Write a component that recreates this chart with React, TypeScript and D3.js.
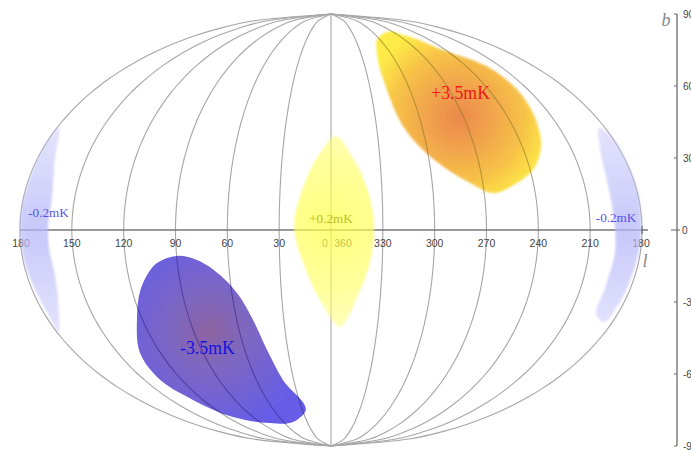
import React from "react";
import * as d3 from "d3";

const W = 691;
const H = 450;

// Sky positions: projected degrees from the map centre (on the equator scale) and galactic latitude b
const hotLon = [26.6, 32.4, 41.7, 64.8, 93.8, 109.4, 119.2, 121.6, 116.9, 107.7, 93.8, 80.5, 61.4, 44, 31.8, 26.6];
const hotLat = [79.2, 82.5, 81.3, 75, 66.7, 57.1, 44.6, 34.6, 25, 19.6, 15.4, 19.6, 28.3, 40.8, 59.6, 73.8];
const coldLon = [-89.1, -77.6, -64.2, -54.4, -45.1, -37, -27.8, -15, -22, -35.3, -56.7, -79.9, -100.7, -110.5, -112.3, -108.8, -100.7];
const coldLat = [-10.8, -12.5, -18.8, -26.3, -37.5, -50, -62.5, -75.8, -80, -80.4, -77.9, -70.8, -61.3, -51.3, -37.5, -22.1, -13.8];
const warmLon = [2.3, 12.7, 20.8, 24.9, 22.6, 15.6, 4.6, -4.6, -15, -21.4, -16.2, -6.4];
const warmLat = [39.2, 30, 17.5, 2.1, -13.3, -27.1, -40.4, -31.3, -15.8, 2.1, 17.5, 32.1];
const coolLeftLon = [-157.4, -166.7, -174.2, -178.8, -180, -178.3, -172.5, -164.4, -157.4, -157.4, -159.8, -163.2, -163.8, -161.5, -159.8];
const coolLeftLat = [42.9, 34.2, 21.7, 10.4, 0, -10.4, -22.9, -34.2, -42.5, -35.4, -18.8, -7.5, 0.8, 13.3, 30];
const coolRightLon = [155.1, 163.2, 171.3, 177.1, 179.4, 178.8, 174.2, 166.1, 156.9, 154.5, 158.6, 164.4, 164.4, 160.3, 155.7];
const coolRightLat = [42.5, 38.3, 28.3, 17.5, 6.3, -6.3, -18.8, -31.3, -38.3, -36.7, -24.2, -9.2, 0.8, 18.8, 34.2];

const leftLonTicks = [180, 150, 120, 90, 60, 30, 0];
const rightLonTicks = [360, 330, 300, 270, 240, 210, 180];
const latTicks = [90, 60, 30, 0, -30, -60, -90];
const dipoleLabels = ["+3.5mK", "-3.5mK", "+0.2mK", "-0.2mK", "-0.2mK"];

const x = d3.scaleLinear().domain([-180, 180]).range([20, 642]);
const y = d3.scaleLinear().domain([90, -90]).range([14, 446]);
const FRAME = "Liberation Sans, Arial, sans-serif";
const SERIF = "Liberation Serif, Times New Roman, serif";

const zip = (a: number[], b: number[]) => a.map((v, i) => [v, b[i]] as [number, number]);
const blob = d3
  .line<[number, number]>()
  .x((d) => x(d[0]))
  .y((d) => y(d[1]))
  .curve(d3.curveCatmullRomClosed.alpha(1));

const latSamples = d3.range(-90, 90.5, 3);
const meridianPath = (p: number) =>
  d3
    .line<number>()
    .x((b) => x(p * Math.sqrt(Math.max(0, 1 - (b / 90) ** 2))))
    .y((b) => y(b))
    .curve(d3.curveCatmullRom)(latSamples) as string;

const gridPositions = [
  ...leftLonTicks.map((l) => -l),
  ...rightLonTicks.slice(1).map((l) => 360 - l),
];

const hotPath = blob(zip(hotLon, hotLat)) as string;
const coldPath = blob(zip(coldLon, coldLat)) as string;

export default function App() {
  return (
    <div style={{ position: "absolute", left: 0, top: 0, width: W, height: H, background: "#fff" }}>
      <svg width={W} height={H} viewBox={`0 0 ${W} ${H}`} style={{ display: "block" }}>
        <defs>
          <filter id="soft" x="-10%" y="-10%" width="120%" height="120%">
            <feGaussianBlur stdDeviation="0.8" />
          </filter>
          <filter id="crisp" x="-10%" y="-10%" width="120%" height="120%">
            <feGaussianBlur stdDeviation="0.35" />
          </filter>
          <filter id="line" x="-5%" y="-5%" width="110%" height="110%">
            <feGaussianBlur stdDeviation="0.35" />
          </filter>
          <clipPath id="hotClip"><path d={hotPath} /></clipPath>
          <clipPath id="coldClip"><path d={coldPath} /></clipPath>
          <radialGradient id="hot" gradientUnits="userSpaceOnUse" cx={x(74)} cy={y(47)} r={95}>
            <stop offset="0" stopColor="#e97f3c" stopOpacity="0.92" />
            <stop offset="0.35" stopColor="#f09a38" stopOpacity="0.9" />
            <stop offset="0.7" stopColor="#f6bc2e" stopOpacity="0.88" />
            <stop offset="1" stopColor="#fde82e" stopOpacity="0.88" />
          </radialGradient>
          <radialGradient id="cold" gradientUnits="userSpaceOnUse" cx={x(-70)} cy={y(-42)} r={100}>
            <stop offset="0" stopColor="#86589a" stopOpacity="0.93" />
            <stop offset="0.4" stopColor="#6e56bc" stopOpacity="0.9" />
            <stop offset="1" stopColor="#5a4fe4" stopOpacity="0.92" />
          </radialGradient>
          <radialGradient id="warm" gradientUnits="userSpaceOnUse" cx={x(0)} cy={y(2)} r={100}>
            <stop offset="0" stopColor="#ffff48" stopOpacity="0.72" />
            <stop offset="0.65" stopColor="#ffff60" stopOpacity="0.62" />
            <stop offset="1" stopColor="#ffff80" stopOpacity="0.55" />
          </radialGradient>
          <radialGradient id="coolL" gradientUnits="userSpaceOnUse" cx={x(-168)} cy={y(0)} r={105}>
            <stop offset="0" stopColor="#b4b4f8" stopOpacity="0.75" />
            <stop offset="1" stopColor="#c8c8fc" stopOpacity="0.5" />
          </radialGradient>
          <radialGradient id="coolR" gradientUnits="userSpaceOnUse" cx={x(168)} cy={y(0)} r={105}>
            <stop offset="0" stopColor="#b4b4f8" stopOpacity="0.75" />
            <stop offset="1" stopColor="#c8c8fc" stopOpacity="0.5" />
          </radialGradient>
        </defs>

        <g fill="none" stroke="#a6a6a6" strokeWidth={1.1} filter="url(#line)">
          {gridPositions.map((p, i) => (
            <path key={i} d={meridianPath(p)} />
          ))}
        </g>

        <line x1={x(-180)} x2={648} y1={y(0)} y2={y(0)} stroke="#777" strokeWidth={1.4} />
        <line x1={x(180)} x2={x(180)} y1={y(0) - 4} y2={y(0) + 4} stroke="#444" strokeWidth={1} />

        <g fontFamily={FRAME} fontSize={10.5} fill="#444" textAnchor="middle">
          {leftLonTicks.map((l) => (
            <text key={`l${l}`} x={x(-l) + (l === 0 ? -6 : 0) + (l === 180 ? 1 : 0)} y={y(0) + 17}>{l}</text>
          ))}
          {rightLonTicks.map((l) => (
            <text key={`r${l}`} x={x(360 - l) + (l === 360 ? 12 : 0) - (l === 180 ? 1 : 0)} y={y(0) + 17}>{l}</text>
          ))}
        </g>

        <path d={blob(zip(coolLeftLon, coolLeftLat)) as string} fill="url(#coolL)" filter="url(#soft)" />
        <path d={blob(zip(coolRightLon, coolRightLat)) as string} fill="url(#coolR)" filter="url(#soft)" />
        <path d={blob(zip(warmLon, warmLat)) as string} fill="url(#warm)" filter="url(#soft)" />
        <path d={hotPath} fill="url(#hot)" filter="url(#soft)" />
        <path d={coldPath} fill="url(#cold)" filter="url(#crisp)" />

        <g clipPath="url(#hotClip)">
          <g fill="none" stroke="#8a7a30" strokeOpacity={0.55} strokeWidth={1.1}>
            {gridPositions.map((p, i) => (
              <path key={i} d={meridianPath(p)} />
            ))}
          </g>
        </g>
        <g clipPath="url(#coldClip)">
          <g fill="none" stroke="#3a3090" strokeOpacity={0.6} strokeWidth={1.1}>
            {gridPositions.map((p, i) => (
              <path key={i} d={meridianPath(p)} />
            ))}
          </g>
        </g>

        <g fontFamily={SERIF} textAnchor="middle">
          <text x={x(75)} y={y(54.5)} fontSize={17.8} fill="#f01818">{dipoleLabels[0]}</text>
          <text x={x(-71.5)} y={y(-51.5)} fontSize={17.8} fill="#1414e0">{dipoleLabels[1]}</text>
          <text x={x(0)} y={y(3)} fontSize={13.2} fill="#bcbc20">{dipoleLabels[2]}</text>
          <text x={x(-163.5)} y={y(5.5)} fontSize={13.2} fill="#5a50f0">{dipoleLabels[3]}</text>
          <text x={x(165)} y={y(3.5)} fontSize={13.2} fill="#5a50f0">{dipoleLabels[4]}</text>
        </g>

        <line x1={677} x2={677} y1={y(90)} y2={y(-90)} stroke="#777" strokeWidth={1.4} />
        {latTicks.map((b) => (
          <g key={b}>
            <line x1={b === 0 ? 671 : 674} x2={b === 0 ? 680 : 677} y1={y(b)} y2={y(b)} stroke="#666" strokeWidth={1} />
            <text x={b === 0 ? 682 : 683} y={y(b) + 3.5} fontFamily={FRAME} fontSize={10} fill="#444">{b}</text>
          </g>
        ))}

        <text x={666} y={26} fontFamily={SERIF} fontStyle="italic" fontSize={18} fill="#888" textAnchor="middle">b</text>
        <text x={645} y={267} fontFamily={SERIF} fontStyle="italic" fontSize={18} fill="#888" textAnchor="middle">l</text>
      </svg>
    </div>
  );
}
